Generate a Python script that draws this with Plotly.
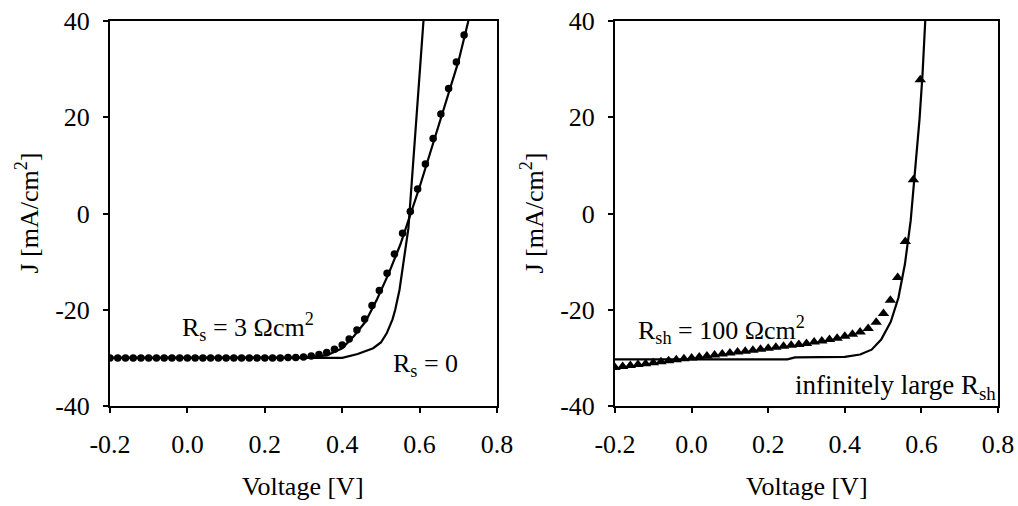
import plotly.graph_objects as go

# ---------------- data ----------------
# Left panel: R_s = 0 model curve
v_rs0 = [-0.2, 0.40, 0.44, 0.48, 0.50, 0.515, 0.53, 0.537, 0.548, 0.558, 0.565, 0.571, 0.58, 0.59, 0.60, 0.61]
j_rs0 = [-30.0, -30.0, -29.2, -28.0, -26.8, -24.9, -22.0, -20.0, -15.9, -10.5, -6.5, -3.1, 6.8, 17.8, 28.9, 40.0]

# Left panel: R_s = 3 Ohm cm2 model curve
v_rs3 = [-0.2, 0.30, 0.36, 0.40, 0.43, 0.46, 0.49, 0.52, 0.55, 0.575, 0.60, 0.65, 0.70, 0.726]
j_rs3 = [-30.0, -29.9, -29.5, -28.0, -25.5, -22.5, -17.8, -12.5, -6.5, -0.7, 5.5, 18.5, 31.5, 40.0]

# Left panel: R_s = 3 Ohm cm2 data points (circles)
v_dots = [-0.20, -0.18, -0.16, -0.14, -0.12, -0.10, -0.08, -0.06, -0.04, -0.02,
          0.00, 0.02, 0.04, 0.06, 0.08, 0.10, 0.12, 0.14, 0.16, 0.18,
          0.20, 0.22, 0.24, 0.26, 0.28, 0.30, 0.32, 0.34, 0.36, 0.38,
          0.40, 0.418, 0.438, 0.458, 0.477, 0.496, 0.516, 0.535, 0.556, 0.576,
          0.595, 0.615, 0.635, 0.655, 0.675, 0.695, 0.715]
j_dots = [-30.0, -30.0, -30.0, -30.0, -30.0, -30.0, -30.0, -30.0, -30.0, -30.0,
          -30.0, -30.0, -30.0, -30.0, -30.0, -30.0, -30.0, -30.0, -30.0, -30.0,
          -30.0, -30.0, -30.0, -29.9, -29.9, -29.8, -29.6, -29.3, -28.9, -28.2,
          -27.3, -26.1, -24.2, -21.9, -19.1, -16.0, -12.4, -8.4, -4.1, 0.4,
          5.1, 10.3, 15.6, 20.7, 26.0, 31.5, 37.1]

# Right panel: infinitely large R_sh model curve
v_inf = [-0.2, 0.25, 0.27, 0.40, 0.44, 0.47, 0.495, 0.52, 0.54, 0.557, 0.572, 0.585, 0.595, 0.603, 0.61]
j_inf = [-30.3, -30.3, -29.9, -29.8, -29.3, -28.3, -26.2, -22.5, -17.5, -10.5, -1.5, 9.5, 19.5, 29.0, 40.0]

# Right panel: R_sh = 100 Ohm cm2 data points (triangles)
v_tri = [-0.20, -0.18, -0.16, -0.14, -0.12, -0.10, -0.08, -0.06, -0.04, -0.02,
         0.00, 0.02, 0.04, 0.06, 0.08, 0.10, 0.12, 0.14, 0.16, 0.18,
         0.20, 0.22, 0.24, 0.26, 0.28, 0.30, 0.32, 0.34, 0.36, 0.38,
         0.40, 0.42, 0.44, 0.461, 0.482, 0.501, 0.519, 0.538, 0.558, 0.579, 0.597]
j_tri = [-32.0, -31.8, -31.6, -31.4, -31.2, -31.0, -30.8, -30.6, -30.4, -30.2,
         -30.0, -29.8, -29.6, -29.4, -29.2, -29.0, -28.8, -28.6, -28.4, -28.2,
         -28.0, -27.8, -27.6, -27.4, -27.2, -27.0, -26.7, -26.5, -26.2, -25.9,
         -25.5, -25.1, -24.6, -23.9, -22.6, -20.8, -18.0, -13.3, -5.8, 7.0, 27.8]

x_ticks = [-0.2, 0.0, 0.2, 0.4, 0.6, 0.8]
x_tick_text = ["-0.2", "0.0", "0.2", "0.4", "0.6", "0.8"]
y_ticks = [-40, -20, 0, 20, 40]
y_tick_text = ["-40", "-20", "0", "20", "40"]
x_title = "Voltage [V]"
y_title = "J [mA/cm<sup>2</sup>]"

# ---------------- figure ----------------
FONT = "Liberation Serif"
BLACK = "#000000"

fig = go.Figure()

fig.add_trace(go.Scatter(x=v_rs0, y=j_rs0, mode="lines", line=dict(color=BLACK, width=2.2),
                         xaxis="x", yaxis="y", showlegend=False))
fig.add_trace(go.Scatter(x=v_rs3, y=j_rs3, mode="lines", line=dict(color=BLACK, width=2.2),
                         xaxis="x", yaxis="y", showlegend=False))
fig.add_trace(go.Scatter(x=v_dots, y=j_dots, mode="markers",
                         marker=dict(symbol="circle", size=7.5, color=BLACK),
                         xaxis="x", yaxis="y", showlegend=False))

fig.add_trace(go.Scatter(x=v_inf, y=j_inf, mode="lines", line=dict(color=BLACK, width=2.2),
                         xaxis="x2", yaxis="y2", showlegend=False))
fig.add_trace(go.Scatter(x=v_tri, y=j_tri, mode="markers",
                         marker=dict(symbol="triangle-up", size=10, color=BLACK),
                         xaxis="x2", yaxis="y2", showlegend=False))

W, H = 1018, 506
y_dom = [1 - 406 / H, 1 - 21 / H]
xl_dom = [110 / W, 497 / W]
xr_dom = [615 / W, 998 / W]

tick_font = dict(family=FONT, size=26, color=BLACK)
common_x = dict(range=[-0.2, 0.8], tickvals=x_ticks, ticktext=x_tick_text,
                showline=True, linecolor=BLACK, linewidth=2, mirror=True,
                ticks="outside", ticklen=5, tickwidth=2, tickcolor=BLACK,
                showgrid=False, zeroline=False, ticklabelstandoff=9,
                automargin=False, tickfont=tick_font)
common_y = dict(range=[-40, 40], tickvals=y_ticks, ticktext=y_tick_text,
                showline=True, linecolor=BLACK, linewidth=2, mirror=True,
                ticks="outside", ticklen=5, tickwidth=2, tickcolor=BLACK,
                showgrid=False, zeroline=False, ticklabelstandoff=8,
                automargin=False, tickfont=tick_font)

fig.update_layout(
    width=W, height=H,
    margin=dict(l=0, r=0, t=0, b=0, autoexpand=False),
    paper_bgcolor="white", plot_bgcolor="white",
    font=dict(family=FONT, size=26, color=BLACK),
    xaxis=dict(domain=xl_dom, anchor="y", **common_x),
    yaxis=dict(domain=y_dom, anchor="x", **common_y),
    xaxis2=dict(domain=xr_dom, anchor="y2", **common_x),
    yaxis2=dict(domain=y_dom, anchor="x2", **common_y),
)

ann_font = dict(family=FONT, size=26, color=BLACK)
annotations = [
    # axis titles
    dict(text=x_title, xref="paper", yref="paper", x=(xl_dom[0] + xl_dom[1]) / 2, y=1 - 486 / H,
         xanchor="center", yanchor="middle", showarrow=False, font=ann_font),
    dict(text=x_title, xref="paper", yref="paper", x=(xr_dom[0] + xr_dom[1]) / 2, y=1 - 486 / H,
         xanchor="center", yanchor="middle", showarrow=False, font=ann_font),
    dict(text=y_title, xref="paper", yref="paper", x=28 / W, y=(y_dom[0] + y_dom[1]) / 2,
         xanchor="center", yanchor="middle", textangle=-90, showarrow=False, font=ann_font),
    dict(text=y_title, xref="paper", yref="paper", x=533 / W, y=(y_dom[0] + y_dom[1]) / 2,
         xanchor="center", yanchor="middle", textangle=-90, showarrow=False, font=ann_font),
    # curve labels
    dict(text="R<sub>s</sub> = 3 Ωcm<sup>2</sup>", xref="x", yref="y", x=0.157, y=-23.5,
         xanchor="center", yanchor="middle", showarrow=False, font=ann_font),
    dict(text="R<sub>s</sub> = 0", xref="x", yref="y", x=0.614, y=-31.5,
         xanchor="center", yanchor="middle", showarrow=False, font=ann_font),
    dict(text="R<sub>sh</sub> = 100 Ωcm<sup>2</sup>", xref="x2", yref="y2", x=0.079, y=-24.2,
         xanchor="center", yanchor="middle", showarrow=False, font=ann_font),
    dict(text="infinitely large R<sub>sh</sub>", xref="x2", yref="y2", x=0.8, y=-36.0,
         xanchor="right", yanchor="middle", showarrow=False,
         font=dict(family=FONT, size=27, color=BLACK)),
]
fig.update_layout(annotations=annotations)

fig.write_html("out.html")
